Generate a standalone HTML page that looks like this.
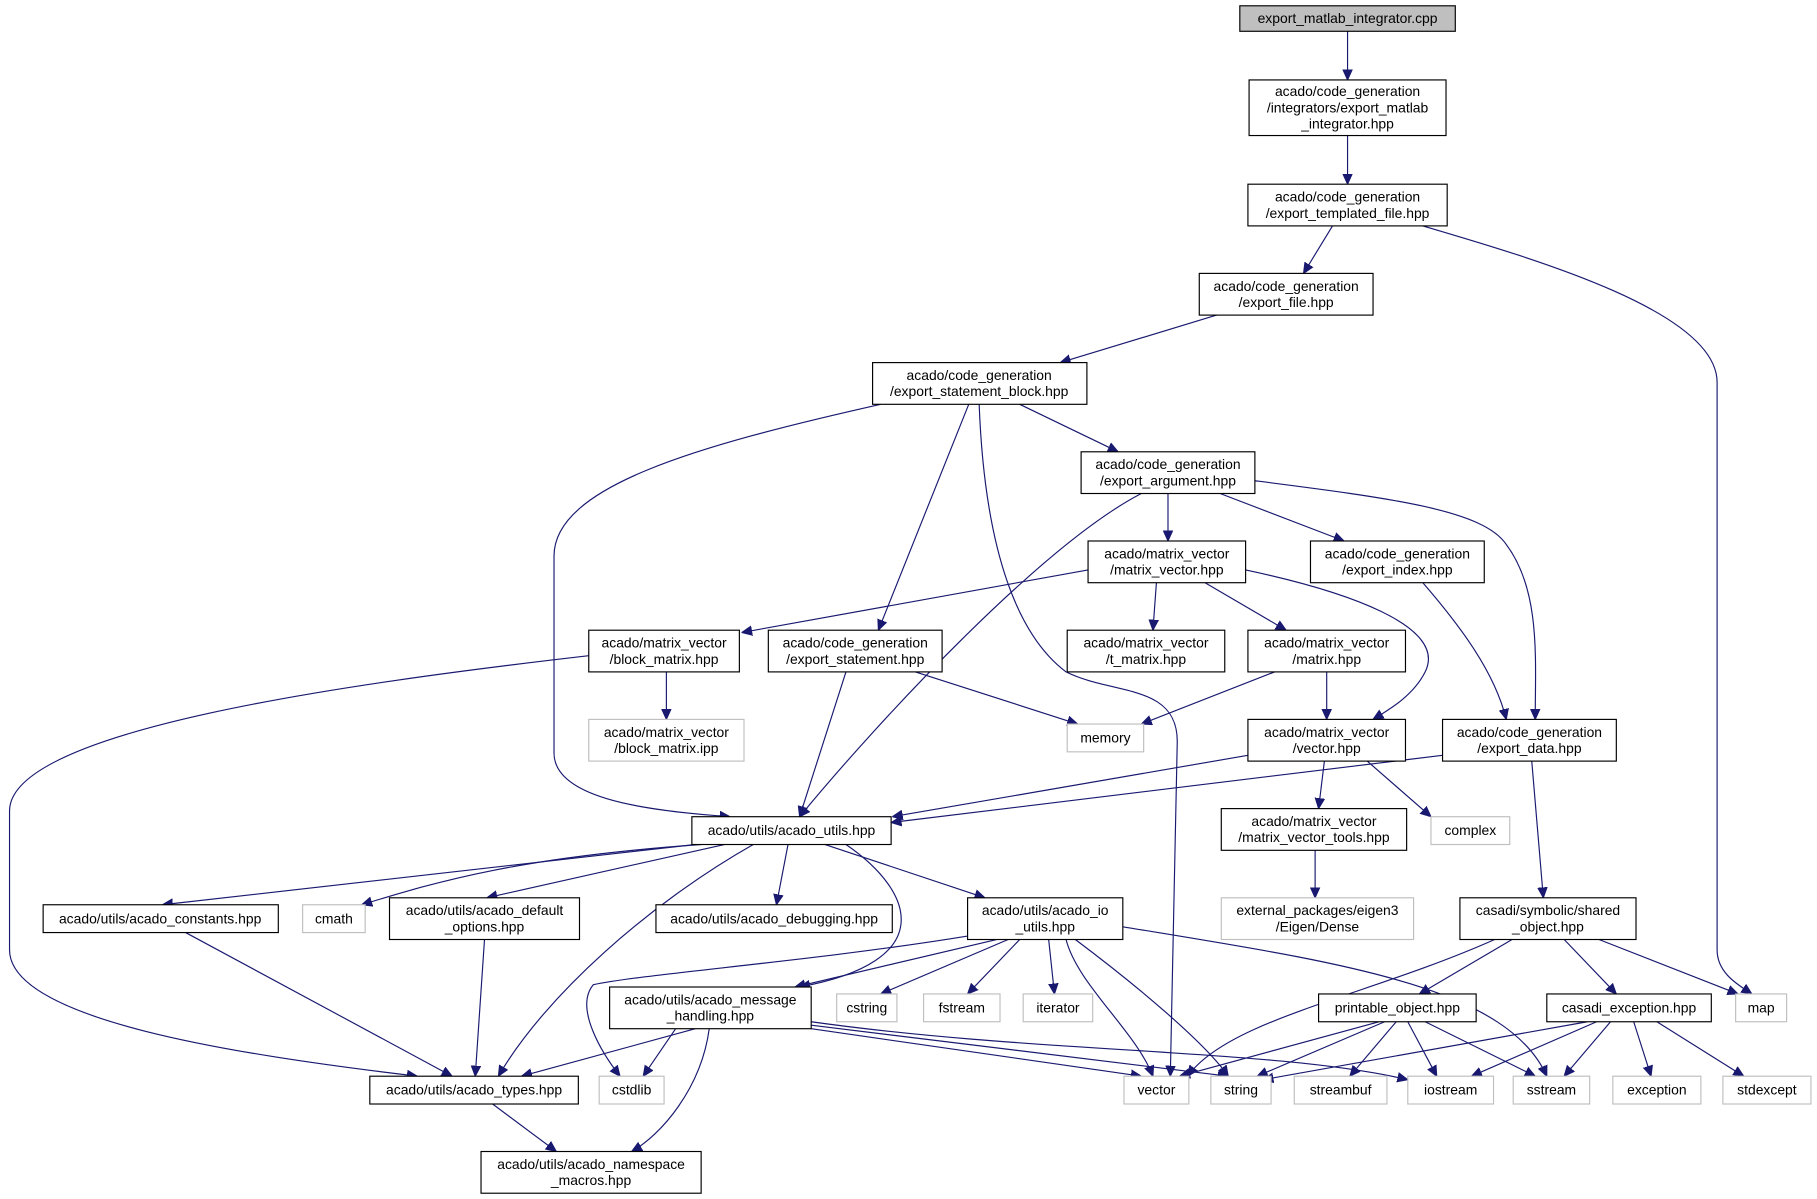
<!DOCTYPE html>
<html><head><meta charset="utf-8"><style>
html,body{margin:0;padding:0;background:#fff;}
svg{display:block;}
text{font-family:"Liberation Sans",sans-serif;font-size:12px;fill:#000;text-anchor:middle;}
.n rect{fill:#fff;stroke:#000;stroke-width:1;}
.g rect{fill:#fff;stroke:#bfbfbf;stroke-width:1;}
.e path{fill:none;stroke:#191970;stroke-width:1;marker-end:url(#a);}
</style></head><body>
<svg width="1817" height="1199" viewBox="0 0 1568 1035" xmlns="http://www.w3.org/2000/svg">
<defs><marker id="a" viewBox="0 0 10 10" refX="10" refY="5" markerWidth="9" markerHeight="9" markerUnits="userSpaceOnUse" orient="auto"><path d="M0,0.5 L10,5 L0,9.5 z" fill="#191970" stroke="#191970"/></marker></defs>
<g class="e">
<path d="M1163,27 L1163,69"/>
<path d="M1163,117 L1163,159"/>
<path d="M1150,195 L1125,236"/>
<path d="M1228,195 C1330,225 1482,270 1482,330 L1482,820 C1482,840 1500,850 1512,858"/>
<path d="M1050,272 L915,313"/>
<path d="M880,349 L965,390"/>
<path d="M836,349 L758,544"/>
<path d="M760,349 C600,385 478,420 478,480 L478,650 C478,690 560,700 630,705"/>
<path d="M845,349 C850,480 880,550 920,580 C960,600 1016,590 1016,640 L1010,929"/>
<path d="M1008,426 L1008,467"/>
<path d="M1053,426 L1160,467"/>
<path d="M985,426 C900,470 760,620 690,705"/>
<path d="M1083,415 C1200,430 1280,440 1300,470 C1330,510 1325,570 1325,621"/>
<path d="M939,492 L640,546"/>
<path d="M998,503 L995,544"/>
<path d="M1040,503 L1110,544"/>
<path d="M1075,492 C1160,510 1250,540 1230,580 C1220,600 1200,612 1185,621"/>
<path d="M1228,503 C1260,540 1290,580 1300,621"/>
<path d="M575,580 L575,621"/>
<path d="M508,566 C300,590 8,630 8,700 L8,820 C8,880 200,910 360,929"/>
<path d="M790,580 L930,625"/>
<path d="M730,580 L690,705"/>
<path d="M1100,580 L985,625"/>
<path d="M1145,580 L1145,621"/>
<path d="M1077,652 L770,705"/>
<path d="M1143,657 L1138,698"/>
<path d="M1180,657 L1235,705"/>
<path d="M1245,652 L769,710"/>
<path d="M1322,657 L1332,775"/>
<path d="M1135,734 L1135,775"/>
<path d="M600,729 L140,781"/>
<path d="M605,729 C450,740 380,760 312,781"/>
<path d="M625,729 L420,775"/>
<path d="M680,729 L670,781"/>
<path d="M712,729 L850,775"/>
<path d="M650,729 C560,780 470,860 430,929"/>
<path d="M730,729 C790,770 810,830 690,852"/>
<path d="M860,811 L686,852"/>
<path d="M835,808 C700,830 560,840 512,850 C495,870 520,910 535,929"/>
<path d="M870,811 L760,858"/>
<path d="M880,811 L835,858"/>
<path d="M905,811 L910,858"/>
<path d="M920,811 C930,850 980,890 995,929"/>
<path d="M928,811 C980,850 1040,900 1060,929"/>
<path d="M969,800 C1150,830 1300,850 1335,929"/>
<path d="M600,888 L450,929"/>
<path d="M583,888 L555,929"/>
<path d="M612,888 C605,940 570,980 545,994"/>
<path d="M700,888 L985,929"/>
<path d="M700,885 L1060,929"/>
<path d="M700,882 C900,910 1100,905 1215,932"/>
<path d="M1190,882 L1018,929"/>
<path d="M1195,882 L1085,929"/>
<path d="M1205,882 L1165,929"/>
<path d="M1215,882 L1240,929"/>
<path d="M1230,882 L1325,929"/>
<path d="M1290,811 C1180,860 1060,880 1025,929"/>
<path d="M1305,811 L1225,858"/>
<path d="M1350,811 L1395,858"/>
<path d="M1380,811 L1500,858"/>
<path d="M1370,882 L1090,932"/>
<path d="M1378,882 L1270,929"/>
<path d="M1390,882 L1350,929"/>
<path d="M1410,882 L1425,929"/>
<path d="M1430,882 L1505,929"/>
<path d="M160,805 L390,929"/>
<path d="M418,811 L410,929"/>
<path d="M425,953 L480,994"/>
</g>
<g class="n"><rect x="1070" y="5" width="186" height="22" style="fill:#bfbfbf"/><text x="1163" y="20">export_matlab_integrator.cpp</text></g>
<g class="n"><rect x="1078" y="69" width="170" height="48"/><text x="1163" y="83">acado/code_generation</text><text x="1163" y="97">/integrators/export_matlab</text><text x="1163" y="111">_integrator.hpp</text></g>
<g class="n"><rect x="1077" y="159" width="172" height="36"/><text x="1163" y="174">acado/code_generation</text><text x="1163" y="188">/export_templated_file.hpp</text></g>
<g class="n"><rect x="1035" y="236" width="150" height="36"/><text x="1110" y="251">acado/code_generation</text><text x="1110" y="265">/export_file.hpp</text></g>
<g class="n"><rect x="753" y="313" width="185" height="36"/><text x="845" y="328">acado/code_generation</text><text x="845" y="342">/export_statement_block.hpp</text></g>
<g class="n"><rect x="933" y="390" width="150" height="36"/><text x="1008" y="405">acado/code_generation</text><text x="1008" y="419">/export_argument.hpp</text></g>
<g class="n"><rect x="939" y="467" width="136" height="36"/><text x="1007" y="482">acado/matrix_vector</text><text x="1007" y="496">/matrix_vector.hpp</text></g>
<g class="n"><rect x="1131" y="467" width="150" height="36"/><text x="1206" y="482">acado/code_generation</text><text x="1206" y="496">/export_index.hpp</text></g>
<g class="n"><rect x="508" y="544" width="130" height="36"/><text x="573" y="559">acado/matrix_vector</text><text x="573" y="573">/block_matrix.hpp</text></g>
<g class="n"><rect x="663" y="544" width="150" height="36"/><text x="738" y="559">acado/code_generation</text><text x="738" y="573">/export_statement.hpp</text></g>
<g class="n"><rect x="921" y="544" width="136" height="36"/><text x="989" y="559">acado/matrix_vector</text><text x="989" y="573">/t_matrix.hpp</text></g>
<g class="n"><rect x="1077" y="544" width="136" height="36"/><text x="1145" y="559">acado/matrix_vector</text><text x="1145" y="573">/matrix.hpp</text></g>
<g class="g"><rect x="508" y="621" width="134" height="36"/><text x="575" y="636">acado/matrix_vector</text><text x="575" y="650">/block_matrix.ipp</text></g>
<g class="g"><rect x="921" y="625" width="66" height="24"/><text x="954" y="641">memory</text></g>
<g class="n"><rect x="1077" y="621" width="136" height="36"/><text x="1145" y="636">acado/matrix_vector</text><text x="1145" y="650">/vector.hpp</text></g>
<g class="n"><rect x="1245" y="621" width="150" height="36"/><text x="1320" y="636">acado/code_generation</text><text x="1320" y="650">/export_data.hpp</text></g>
<g class="n"><rect x="597" y="705" width="172" height="24"/><text x="683" y="721">acado/utils/acado_utils.hpp</text></g>
<g class="n"><rect x="1054" y="698" width="160" height="36"/><text x="1134" y="713">acado/matrix_vector</text><text x="1134" y="727">/matrix_vector_tools.hpp</text></g>
<g class="g"><rect x="1235" y="705" width="68" height="24"/><text x="1269" y="721">complex</text></g>
<g class="n"><rect x="37" y="781" width="203" height="24"/><text x="138" y="797">acado/utils/acado_constants.hpp</text></g>
<g class="g"><rect x="261" y="781" width="54" height="24"/><text x="288" y="797">cmath</text></g>
<g class="n"><rect x="336" y="775" width="164" height="36"/><text x="418" y="790">acado/utils/acado_default</text><text x="418" y="804">_options.hpp</text></g>
<g class="n"><rect x="566" y="781" width="204" height="24"/><text x="668" y="797">acado/utils/acado_debugging.hpp</text></g>
<g class="n"><rect x="835" y="775" width="134" height="36"/><text x="902" y="790">acado/utils/acado_io</text><text x="902" y="804">_utils.hpp</text></g>
<g class="g"><rect x="1054" y="775" width="166" height="36"/><text x="1137" y="790">external_packages/eigen3</text><text x="1137" y="804">/Eigen/Dense</text></g>
<g class="n"><rect x="1260" y="775" width="152" height="36"/><text x="1336" y="790">casadi/symbolic/shared</text><text x="1336" y="804">_object.hpp</text></g>
<g class="n"><rect x="526" y="852" width="174" height="36"/><text x="613" y="867">acado/utils/acado_message</text><text x="613" y="881">_handling.hpp</text></g>
<g class="g"><rect x="722" y="858" width="52" height="24"/><text x="748" y="874">cstring</text></g>
<g class="g"><rect x="797" y="858" width="66" height="24"/><text x="830" y="874">fstream</text></g>
<g class="g"><rect x="883" y="858" width="60" height="24"/><text x="913" y="874">iterator</text></g>
<g class="n"><rect x="1138" y="858" width="136" height="24"/><text x="1206" y="874">printable_object.hpp</text></g>
<g class="n"><rect x="1335" y="858" width="142" height="24"/><text x="1406" y="874">casadi_exception.hpp</text></g>
<g class="g"><rect x="1498" y="858" width="44" height="24"/><text x="1520" y="874">map</text></g>
<g class="n"><rect x="319" y="929" width="180" height="24"/><text x="409" y="945">acado/utils/acado_types.hpp</text></g>
<g class="g"><rect x="517" y="929" width="56" height="24"/><text x="545" y="945">cstdlib</text></g>
<g class="g"><rect x="970" y="929" width="56" height="24"/><text x="998" y="945">vector</text></g>
<g class="g"><rect x="1045" y="929" width="52" height="24"/><text x="1071" y="945">string</text></g>
<g class="g"><rect x="1117" y="929" width="80" height="24"/><text x="1157" y="945">streambuf</text></g>
<g class="g"><rect x="1215" y="929" width="74" height="24"/><text x="1252" y="945">iostream</text></g>
<g class="g"><rect x="1306" y="929" width="66" height="24"/><text x="1339" y="945">sstream</text></g>
<g class="g"><rect x="1392" y="929" width="76" height="24"/><text x="1430" y="945">exception</text></g>
<g class="g"><rect x="1487" y="929" width="76" height="24"/><text x="1525" y="945">stdexcept</text></g>
<g class="n"><rect x="415" y="994" width="190" height="36"/><text x="510" y="1009">acado/utils/acado_namespace</text><text x="510" y="1023">_macros.hpp</text></g>
</svg>
</body></html>
